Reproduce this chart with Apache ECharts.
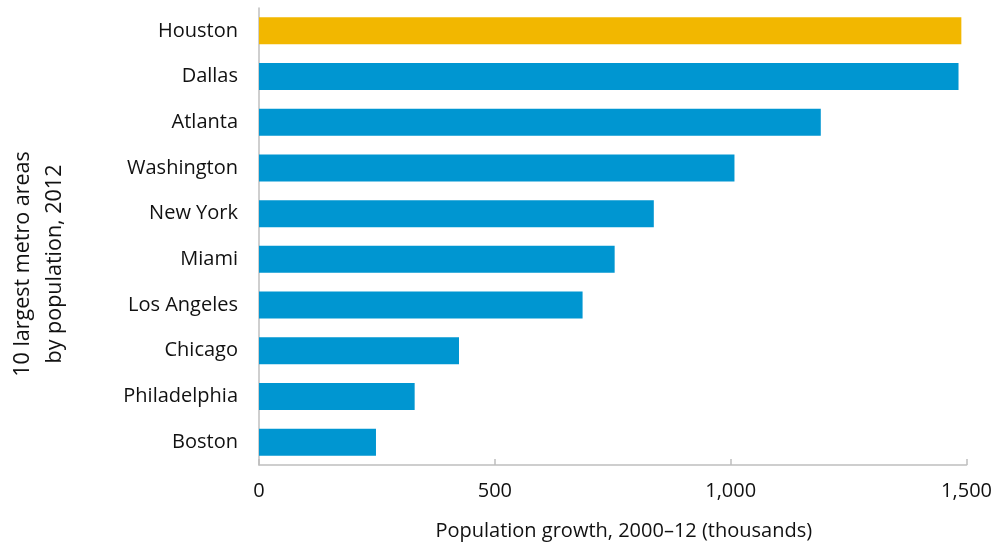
<!DOCTYPE html>
<html>
<head>
<meta charset="utf-8">
<script src="https://cdn.jsdelivr.net/npm/echarts@6/dist/echarts.min.js"></script>
<style>
  html, body { margin: 0; padding: 0; background: #fff; }
  #chart { width: 995px; height: 546px; }
</style>
</head>
<body>
<div id="chart"></div>
<script>
// Metro areas, listed bottom to top as drawn on the category axis
const cities = ['Boston', 'Philadelphia', 'Chicago', 'Los Angeles', 'Miami',
                'New York', 'Washington', 'Atlanta', 'Dallas', 'Houston'];
// Population growth 2000–12, thousands
const growth = [248, 330, 424, 686, 754, 837, 1008, 1191, 1483, 1489];
const highlightCity = 'Houston';
const xTicks = [0, 500, 1000, 1500];

const FONT = '"Open Sans", Lato, sans-serif';
const BLUE = '#0096d1';
const GOLD = '#f2b700';

const chart = echarts.init(document.getElementById('chart'), null, { renderer: 'canvas' });

chart.setOption({
  animation: false,
  grid: { left: 259, right: 28, top: 8, bottom: 81, containLabel: false },
  xAxis: {
    type: 'value',
    min: xTicks[0],
    max: xTicks[xTicks.length - 1],
    interval: xTicks[1] - xTicks[0],
    axisLine: { show: true, lineStyle: { color: '#bfbfbf', width: 1.5 } },
    axisTick: { show: true, inside: true, length: 6, lineStyle: { color: '#bfbfbf', width: 1.5 } },
    splitLine: { show: false },
    axisLabel: {
      color: '#111', fontFamily: FONT, fontSize: 20, margin: 16,
      formatter: v => v.toLocaleString('en-US')
    },
    name: 'Population growth, 2000\u201312 (thousands)',
    nameLocation: 'middle',
    nameGap: 56,
    nameTextStyle: { color: '#111', fontFamily: FONT, fontSize: 20, padding: [0, 0, 0, 22] }
  },
  yAxis: {
    type: 'category',
    data: cities,
    axisLine: { show: true, lineStyle: { color: '#bfbfbf', width: 1.5 } },
    axisTick: { show: false },
    axisLabel: { color: '#111', fontFamily: FONT, fontSize: 20, margin: 21 }
  },
  graphic: [{
    type: 'text',
    x: 39, y: 264,
    rotation: Math.PI / 2,
    style: {
      text: '10 largest metro areas\nby population, 2012',
      fontFamily: FONT, fontSize: 21.5, fill: '#111',
      align: 'center', verticalAlign: 'middle', lineHeight: 32
    }
  }],
  series: [{
    type: 'bar',
    barCategoryGap: '41%',
    data: cities.map((c, i) => ({
      value: growth[i],
      itemStyle: { color: c === highlightCity ? GOLD : BLUE }
    }))
  }]
});
</script>
</body>
</html>
